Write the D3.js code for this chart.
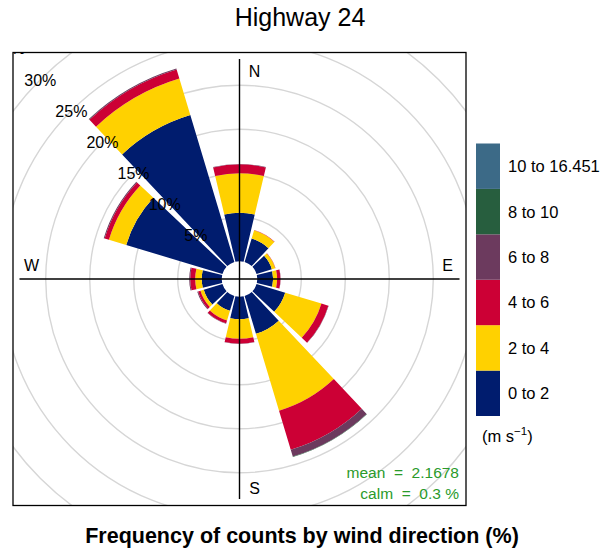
<!DOCTYPE html>
<html>
<head>
<meta charset="utf-8">
<script src="https://cdn.jsdelivr.net/npm/d3@7"></script>
<style>
  html, body { margin: 0; padding: 0; background: #fff; }
  svg { display: block; font-family: "Liberation Sans", Arial, Helvetica, sans-serif; }
</style>
</head>
<body>
<svg id="chart" width="605" height="552"></svg>
<script>
// ---- data (percent of counts per 30° sector, per wind-speed bin) ----
const directions = [0, 30, 60, 90, 120, 150, 180, 210, 240, 270, 300, 330];
const speedBins = ["0 to 2", "2 to 4", "4 to 6", "6 to 8", "8 to 10", "10 to 16.451"];
const binColors = ["#001C6E", "#FFD100", "#CC0035", "#6C3A5E", "#275E3E", "#3C6A87"];
const ws0to2   = [5.5, 2.78, 1.82, 1.8, 3.4, 4.48, 2.56, 1.75, 2.22, 2.27, 11.42, 17.43];
const ws2to4   = [4.5, 0.97, 0.4, 0.45, 4.3, 9.13, 2.21, 1.15, 0.39, 0.74, 2.05, 4.33];
const ws4to6   = [1.0, 0.05, 0.03, 0.38, 0.82, 4.63, 0.55, 0.34, 0.28, 0.57, 0.51, 1.08];
const ws6to8   = [0.05, 0, 0, 0.02, 0.04, 0.8, 0.05, 0.05, 0.1, 0.11, 0.11, 0.1];
const ws8to10  = [0, 0, 0, 0, 0, 0.05, 0, 0, 0, 0, 0, 0.02];
const ws10plus = [0, 0, 0, 0, 0, 0, 0, 0, 0, 0, 0, 0];
const gridTicks = [5, 10, 15, 20, 25, 30, 35];
const compassLabels = ["N", "E", "S", "W"];
const titleText = "Highway 24";
const footText = "Frequency of counts by wind direction (%)";
const meanText = "mean  =  2.1678";
const calmText = "calm  =  0.3 %";

const series = [ws0to2, ws2to4, ws4to6, ws6to8, ws8to10, ws10plus];

const svg = d3.select("#chart");
const box = {x: 13, y: 52.5, w: 453, h: 453};
const cx = 239.5, cy = 279;

svg.append("text").attr("x", 300).attr("y", 26).attr("text-anchor", "middle")
  .attr("font-size", 25).text(titleText);
svg.append("text").attr("x", 302).attr("y", 543).attr("text-anchor", "middle")
  .attr("font-size", 21.5).attr("font-weight", "bold").text(footText);

svg.append("defs").append("clipPath").attr("id", "clip")
  .append("rect").attr("x", box.x).attr("y", box.y).attr("width", box.w).attr("height", box.h);

const g = svg.append("g").attr("clip-path", "url(#clip)");
const pg = g.append("g").attr("transform", `translate(${cx},${cy})`);

const r = d3.scaleLinear().domain([0, 35]).range([17.8, 17.8 + 8.8 * 35]);

// grid circles
pg.selectAll("circle.grid").data(gridTicks).join("circle")
  .attr("class", "grid").attr("r", d => r(d))
  .attr("fill", "none").attr("stroke", "#d6d6d6").attr("stroke-width", 1.4);

// stacked wedges
const rows = directions.map((dir, i) => {
  const o = {dir};
  speedBins.forEach((b, j) => o[b] = series[j][i]);
  return o;
});
const stacked = d3.stack().keys(speedBins)(rows);
const half = 13.3 * Math.PI / 180;
const arc = d3.arc();
stacked.forEach((layer, j) => {
  pg.append("g").selectAll("path").data(layer).join("path")
    .attr("d", d => {
      if (d[1] - d[0] <= 0) return null;
      const a = d.data.dir * Math.PI / 180;
      return arc({innerRadius: r(d[0]), outerRadius: r(d[1]), startAngle: a - half, endAngle: a + half});
    })
    .attr("fill", binColors[j]);
});

// axes
const axLen = 220;
pg.append("line").attr("x1", -axLen).attr("x2", axLen).attr("y1", 0).attr("y2", 0)
  .attr("stroke", "#000").attr("stroke-width", 1.4);
pg.append("line").attr("x1", 0).attr("x2", 0).attr("y1", -axLen).attr("y2", axLen)
  .attr("stroke", "#000").attr("stroke-width", 1.4);

// compass labels
const lp = [[15, -208], [208, -14], [15, 209], [-208, -14]];
compassLabels.forEach((t, i) => {
  pg.append("text").attr("x", lp[i][0]).attr("y", lp[i][1]).attr("dy", "0.36em")
    .attr("text-anchor", "middle").attr("font-size", 16).text(t);
});

// grid labels along 315°
const la = 315 * Math.PI / 180;
pg.selectAll("text.glab").data(gridTicks).join("text").attr("class", "glab")
  .attr("x", d => r(d) * Math.sin(la)).attr("y", d => -r(d) * Math.cos(la))
  .attr("dy", "0.36em").attr("text-anchor", "middle").attr("font-size", 16)
  .text(d => d + "%");

// mean/calm
g.append("text").attr("x", 459).attr("y", 472).attr("dy", "0.36em").attr("text-anchor", "end")
  .attr("font-size", 15.5).attr("fill", "#2A9A2A").style("white-space", "pre").text(meanText);
g.append("text").attr("x", 459).attr("y", 493).attr("dy", "0.36em").attr("text-anchor", "end")
  .attr("font-size", 15.5).attr("fill", "#2A9A2A").style("white-space", "pre").text(calmText);

// box
svg.append("rect").attr("x", box.x).attr("y", box.y).attr("width", box.w).attr("height", box.h)
  .attr("fill", "none").attr("stroke", "#000").attr("stroke-width", 1.3);

// legend
const lg = svg.append("g");
const ly = d3.scaleBand().domain(speedBins.slice().reverse()).range([143.5, 416]);
lg.selectAll("rect").data(speedBins).join("rect")
  .attr("x", 476).attr("width", 24).attr("y", d => ly(d)).attr("height", ly.bandwidth())
  .attr("fill", (d, i) => binColors[i]);
lg.selectAll("text").data(speedBins).join("text")
  .attr("x", 508).attr("y", d => ly(d) + ly.bandwidth() / 2).attr("dy", "0.36em")
  .attr("font-size", 16.5).text(d => d);
const unit = lg.append("text").attr("x", 482).attr("y", 442).attr("font-size", 16.5);
unit.append("tspan").text("(m s");
unit.append("tspan").attr("font-size", 11.5).attr("dy", -7).text("\u22121");
unit.append("tspan").attr("dy", 7).text(")");
</script>
</body>
</html>
